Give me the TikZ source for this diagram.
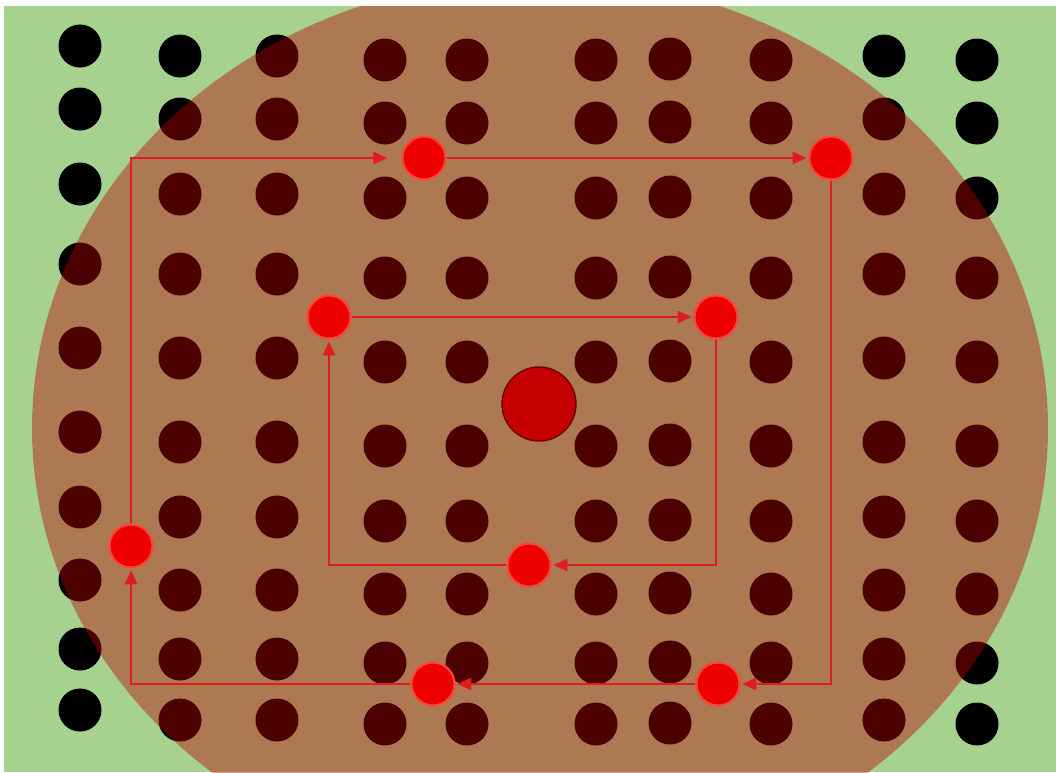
\documentclass[tikz,border=0pt]{standalone}
\usetikzlibrary{arrows.meta}
\definecolor{fieldgreen}{RGB}{166,209,142}
\definecolor{padshade}{RGB}{184,0,0}
\definecolor{hopred}{RGB}{238,0,0}
\definecolor{hoprim}{RGB}{248,70,60}
\definecolor{hubred}{RGB}{196,0,0}
\definecolor{hubrim}{RGB}{110,0,0}
\definecolor{routered}{RGB}{222,30,30}

\begin{document}
\begin{tikzpicture}[x=0.02cm,y=-0.02cm,
  hop/.style={circle,fill=hopred,draw=hoprim,line width=1.2pt,minimum size=0.86cm,inner sep=0pt},
  hub/.style={circle,fill=hubred,draw=hubrim,line width=0.8pt,minimum size=1.48cm,inner sep=0pt},
  route/.style={draw=routered,line width=1.1pt,-{Triangle[length=8pt,width=7pt]},shorten >=1pt}]
\useasboundingbox (0,0) rectangle (1056,772);
\begin{scope}
\clip (4,6) rectangle (1056,772);
\fill[fieldgreen] (4,6) rectangle (1056,772);
% pads
\foreach \x/\dy in {80/-14,180/-4,277/-4,385/0,467/0,596/0,670/-1,771/0,884/-4,977/0}
  \foreach \y in {60,123,198,278,362,446,521,594,663,724}
    \fill[black] ({\x},{\y+(\dy)}) circle[radius=21.5];
\fill[padshade,opacity=0.42] (540,428) ellipse[x radius=508,y radius=451];
\end{scope}
\node[hub] (hub) at (539,404) {};
% hops
\node[hop] (a) at (424,158) {};
\node[hop] (b) at (831,158) {};
\node[hop] (c) at (329,317) {};
\node[hop] (d) at (716,317) {};
\node[hop] (e) at (529,565) {};
\node[hop] (f) at (131,546) {};
\node[hop] (g) at (433,684) {};
\node[hop] (h) at (718,684) {};
% outer loop
\draw[route,shorten >=8pt] (f) |- (a);
\draw[route] (a) -- (b);
\draw[route] (b) |- (h);
\draw[route] (h) -- (g);
\draw[route] (g) -| (f);
% inner loop
\draw[route] (c) -- (d);
\draw[route] (d) |- (e);
\draw[route] (e) -| (c);
\end{tikzpicture}
\end{document}
